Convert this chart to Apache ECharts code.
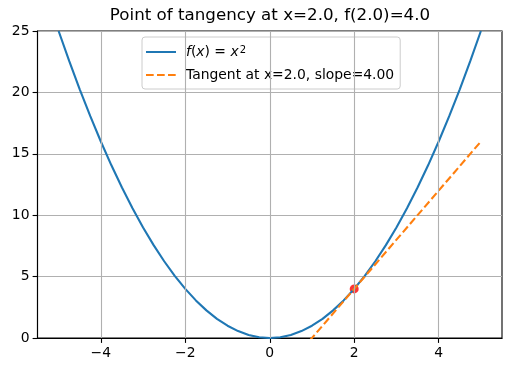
<!DOCTYPE html>
<html>
<head>
<meta charset="utf-8">
<script src="https://cdn.jsdelivr.net/npm/echarts@6/dist/echarts.min.js"></script>
<style>
html,body{margin:0;padding:0;background:#fff;}
#chart{width:512px;height:372px;}
</style>
</head>
<body>
<div id="chart"></div>
<script>
// ---- data ----
const curveX = [-5,-4.75,-4.5,-4.25,-4,-3.75,-3.5,-3.25,-3,-2.75,-2.5,-2.25,-2,-1.75,-1.5,-1.25,-1,-0.75,-0.5,-0.25,0,0.25,0.5,0.75,1,1.25,1.5,1.75,2,2.25,2.5,2.75,3,3.25,3.5,3.75,4,4.25,4.5,4.75,5];
const curveY = [25,22.5625,20.25,18.0625,16,14.0625,12.25,10.5625,9,7.5625,6.25,5.0625,4,3.0625,2.25,1.5625,1,0.5625,0.25,0.0625,0,0.0625,0.25,0.5625,1,1.5625,2.25,3.0625,4,5.0625,6.25,7.5625,9,10.5625,12.25,14.0625,16,18.0625,20.25,22.5625,25];
const tangentX = [-5, 5];
const tangentY = [-24, 16];
const pointX = [2];
const pointY = [4];
const xTicks = [-4, -2, 0, 2, 4];
const yTicks = [0, 5, 10, 15, 20, 25];
const titleText = 'Point of tangency at x=2.0, f(2.0)=4.0';
const curveName = 'f(x) = x^2';
const tangentName = 'Tangent at x=2.0, slope=4.00';

const zip = (a, b) => a.map((v, i) => [v, b[i]]);
const fmt = v => String(v).replace('-', '\u2212');

const chart = echarts.init(document.getElementById('chart'), null, {renderer: 'canvas'});
const font = 'DejaVu Sans';
const fs = 13.9;
chart.setOption({
  animation: false,
  backgroundColor: '#fff',
  title: {
    text: titleText,
    left: 270, top: 7, padding: 0, textAlign: 'center',
    textStyle: {fontFamily: font, fontSize: 16.7, fontWeight: 'normal', color: '#000'}
  },
  grid: {left: 37.5, right: 10, top: 31, bottom: 34, show: true, borderColor: '#000', borderWidth: 1.1, backgroundColor: 'transparent'},
  legend: {
    orient: 'vertical', left: 142, top: 37,
    data: [curveName, tangentName],
    itemWidth: 30, itemHeight: 14, itemGap: 8,
    padding: [8, 6, 7, 3],
    backgroundColor: 'rgba(255,255,255,0.8)',
    borderColor: '#cccccc', borderWidth: 1, borderRadius: 3,
    itemStyle: {opacity: 0},
    formatter: function (name) {
      if (name === curveName) return '{i|f}{n|(}{i|x}{n|) = }{i|x}{sup|2}';
      return '{n|' + name + '}';
    },
    textStyle: {
      fontFamily: font, fontSize: fs, color: '#000', padding: [0, 0, 0, 5], lineHeight: 14,
      rich: {
        n: {fontFamily: font, fontSize: fs, color: '#000', lineHeight: 14},
        i: {fontFamily: font, fontSize: fs, fontStyle: 'italic', color: '#000', lineHeight: 14},
        sup: {fontFamily: font, fontSize: 10, color: '#000', lineHeight: 14, verticalAlign: 'top', padding: [0, 0, 5, 1]}
      }
    }
  },
  xAxis: {
    type: 'value', min: -5.5, max: 5.5,
    axisLine: {show: true, onZero: false, lineStyle: {color: '#000', width: 1.1}},
    axisTick: {show: true, length: 4.9, customValues: xTicks, lineStyle: {color: '#000', width: 1.1}},
    axisLabel: {customValues: xTicks, formatter: fmt, margin: 8, fontFamily: font, fontSize: fs, color: '#000'},
    splitLine: {show: false}
  },
  yAxis: {
    type: 'value', min: 0, max: 25, interval: 5,
    axisLine: {show: true, onZero: false, lineStyle: {color: '#000', width: 1.1}},
    axisTick: {show: true, length: 4.9, lineStyle: {color: '#000', width: 1.1}},
    axisLabel: {margin: 8, fontFamily: font, fontSize: fs, color: '#000'},
    splitLine: {show: true, lineStyle: {color: '#b0b0b0', width: 1.1}}
  },
  series: [
    {
      name: 'grid', type: 'line', data: [], silent: true, z: 0,
      markLine: {
        silent: true, symbol: 'none', label: {show: false},
        lineStyle: {color: '#b0b0b0', width: 1.1, type: 'solid'},
        data: xTicks.map(v => ({xAxis: v}))
      }
    },
    {
      name: 'point', type: 'scatter', data: zip(pointX, pointY), symbolSize: 9,
      itemStyle: {color: '#ff0000'}, z: 1
    },
    {
      name: curveName, type: 'line', data: zip(curveX, curveY), showSymbol: false, symbol: 'none',
      clip: true, lineStyle: {color: '#1f77b4', width: 2.1}, itemStyle: {color: '#1f77b4'}, z: 2
    },
    {
      name: tangentName, type: 'line', data: zip(tangentX, tangentY), showSymbol: false, symbol: 'none',
      clip: true, lineStyle: {color: '#ff7f0e', width: 2.1, type: [7.7, 3.3]}, itemStyle: {color: '#ff7f0e'}, z: 3
    }
  ]
});
</script>
</body>
</html>
